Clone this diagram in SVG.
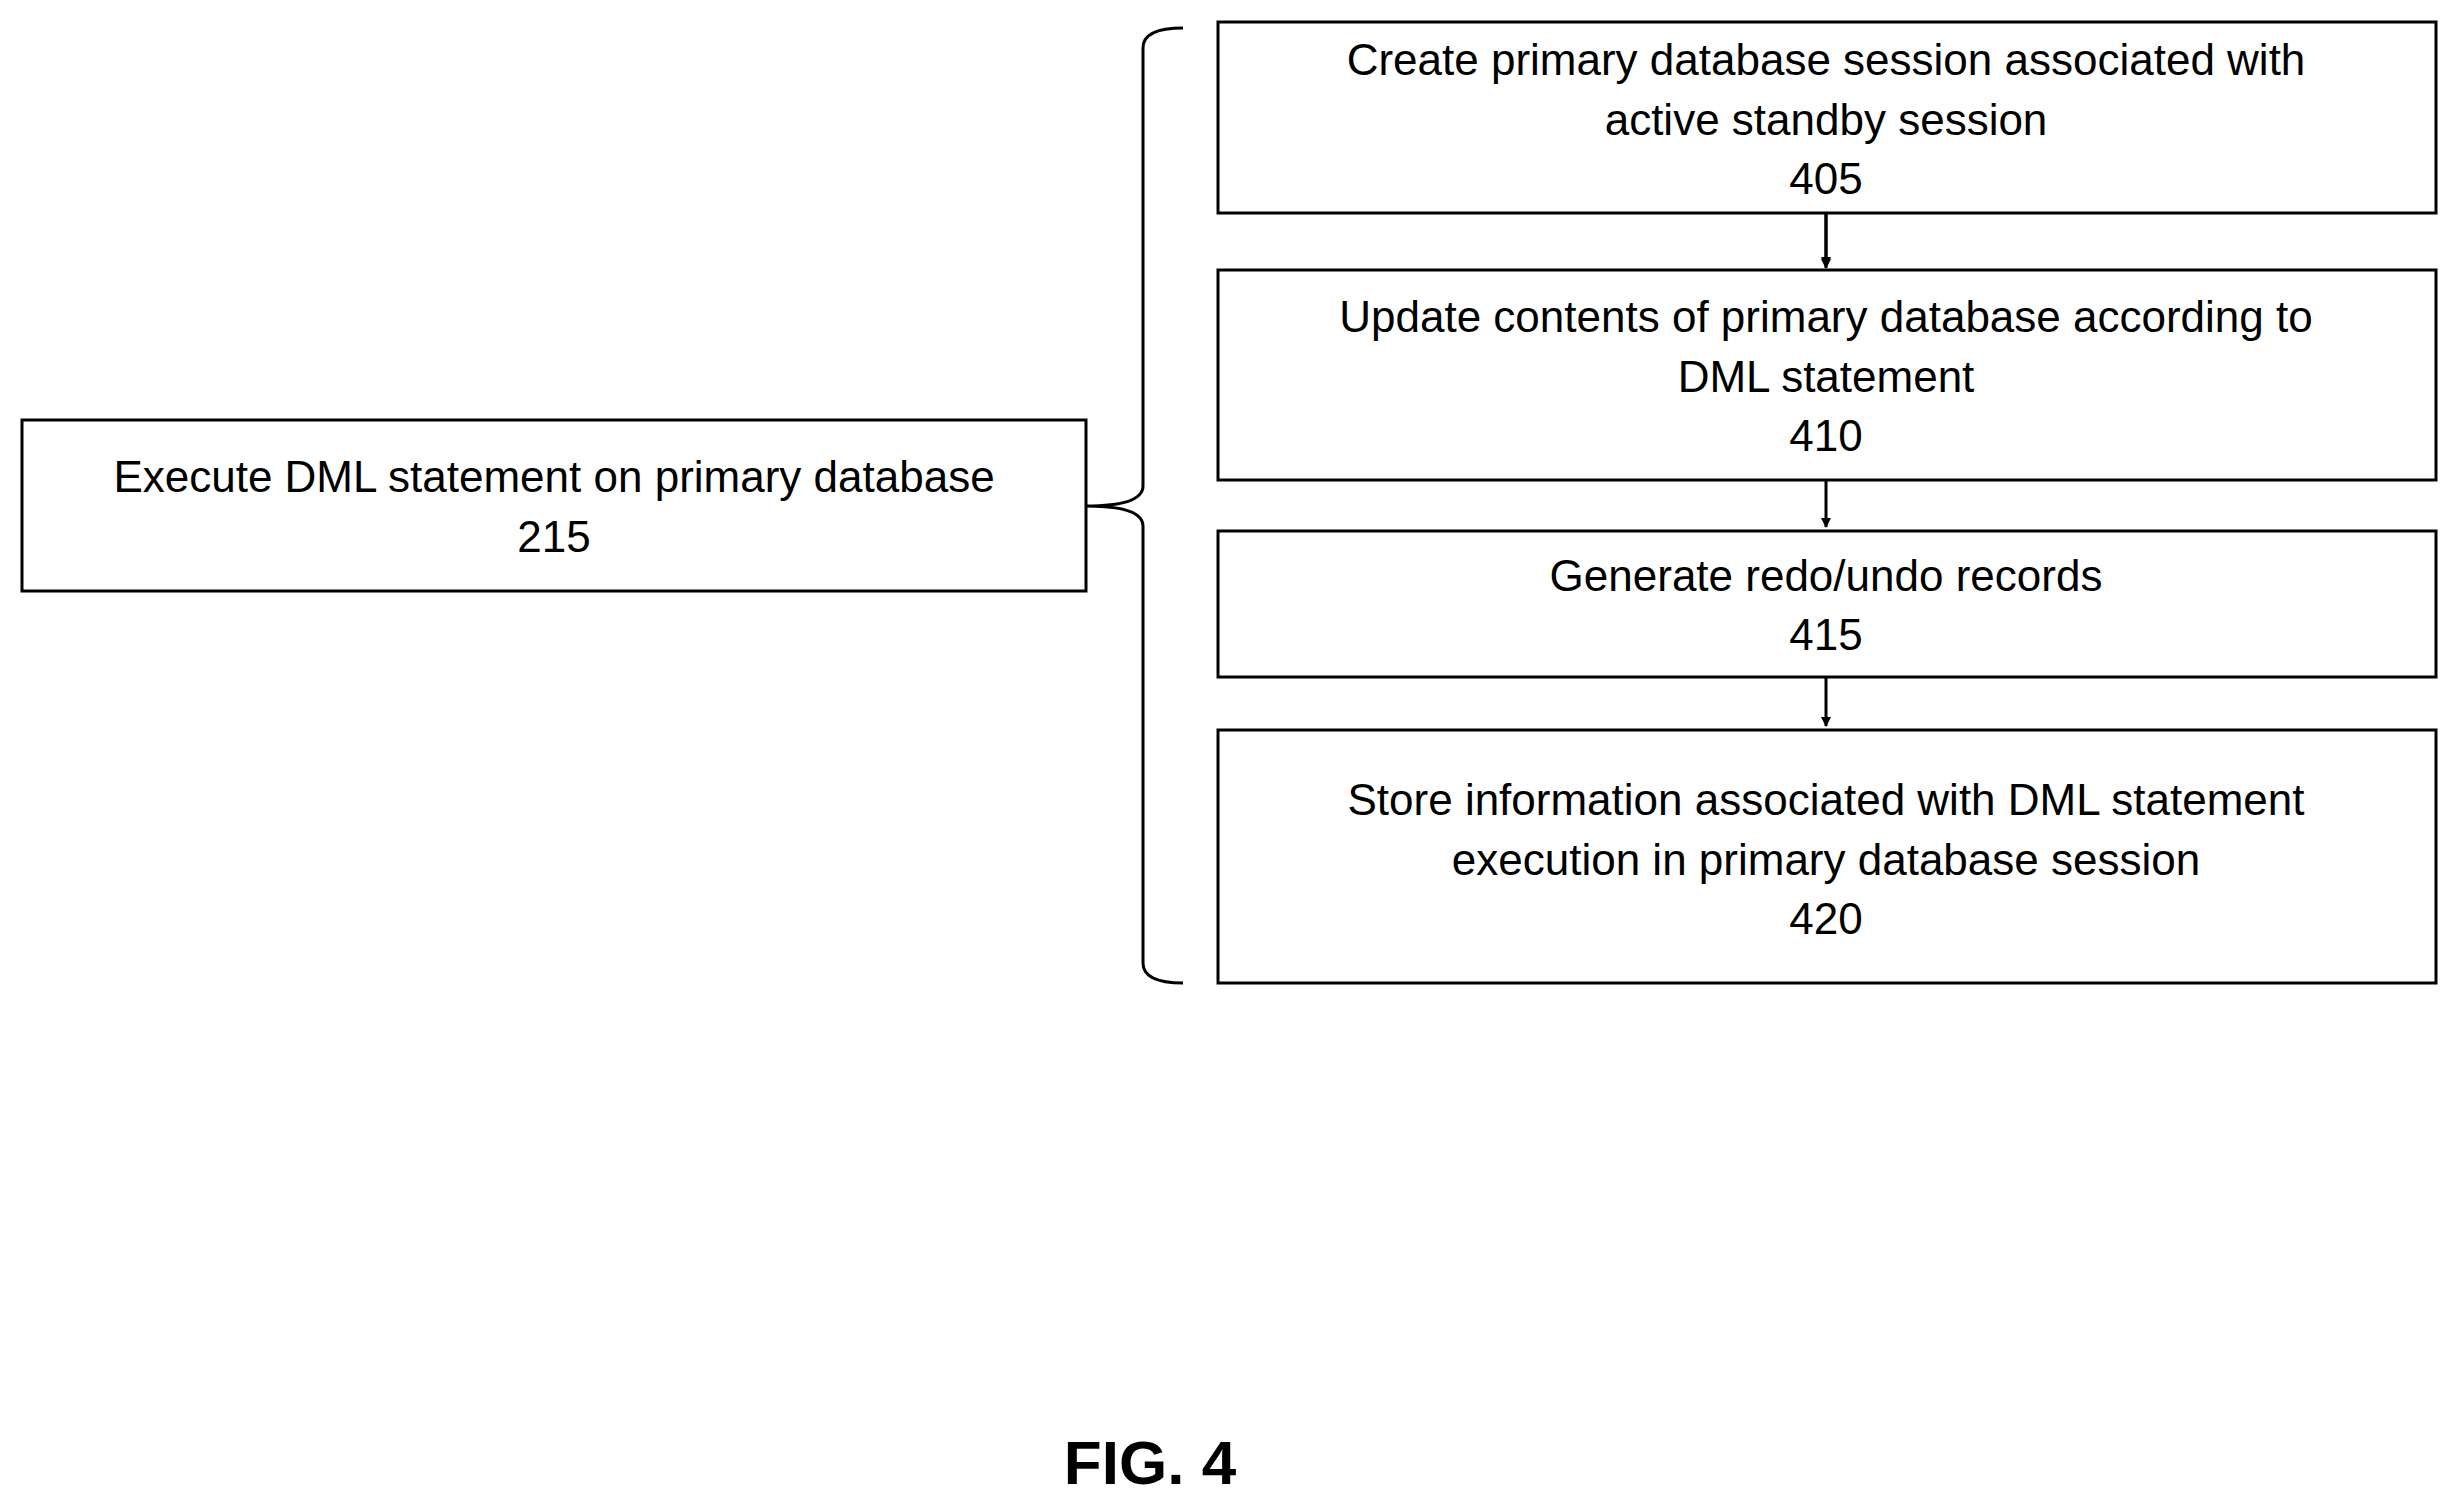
<svg xmlns="http://www.w3.org/2000/svg" width="2458" height="1508" viewBox="0 0 2458 1508">
<style>
.b{fill:#fff;stroke:#000;stroke-width:3}
.t{font-family:"Liberation Sans",Arial,sans-serif;font-size:44px;text-anchor:middle;fill:#000}
.c{fill:none;stroke:#000;stroke-width:3}
</style>
<defs><marker id="a" markerWidth="10" markerHeight="10" refX="9" refY="5" orient="auto" markerUnits="userSpaceOnUse" viewBox="0 0 10 10"><path d="M0,0L10,5L0,10z"/></marker></defs>
<rect width="2458" height="1508" fill="#fff"/>
<g id="n215"><rect class="b" x="22" y="420" width="1064" height="171"/><text class="t" x="554" y="492">Execute DML statement on primary database</text><text class="t" x="554" y="552">215</text></g>
<g id="n405"><rect class="b" x="1218" y="22" width="1218" height="191"/><text class="t" x="1826" y="75">Create primary database session associated with</text><text class="t" x="1826" y="135">active standby session</text><text class="t" x="1826" y="194">405</text></g>
<g id="n410"><rect class="b" x="1218" y="270" width="1218" height="210"/><text class="t" x="1826" y="332">Update contents of primary database according to</text><text class="t" x="1826" y="392">DML statement</text><text class="t" x="1826" y="451">410</text></g>
<g id="n415"><rect class="b" x="1218" y="531" width="1218" height="146"/><text class="t" x="1826" y="591">Generate redo/undo records</text><text class="t" x="1826" y="650">415</text></g>
<g id="n420"><rect class="b" x="1218" y="730" width="1218" height="253"/><text class="t" x="1826" y="815">Store information associated with DML statement</text><text class="t" x="1826" y="875">execution in primary database session</text><text class="t" x="1826" y="934">420</text></g>
<g id="connectors">
<path class="c" d="M1183,28 Q1143,28 1143,48 L1143,486 Q1143,506 1086,506 Q1143,506 1143,526 L1143,963 Q1143,983 1183,983"/>
<path d="M1826,213V268" class="c" stroke-width="3" marker-end="url(#a)" transform="scale(1)"/>
<path class="c" d="M1826,213V266" marker-end="url(#a)"/>
<path class="c" d="M1826,480V527" marker-end="url(#a)"/>
<path class="c" d="M1826,677V726" marker-end="url(#a)"/>
</g>
<text x="1150" y="1484" font-family="Liberation Sans,Arial,sans-serif" font-size="62" font-weight="bold" text-anchor="middle">FIG. 4</text>
</svg>
